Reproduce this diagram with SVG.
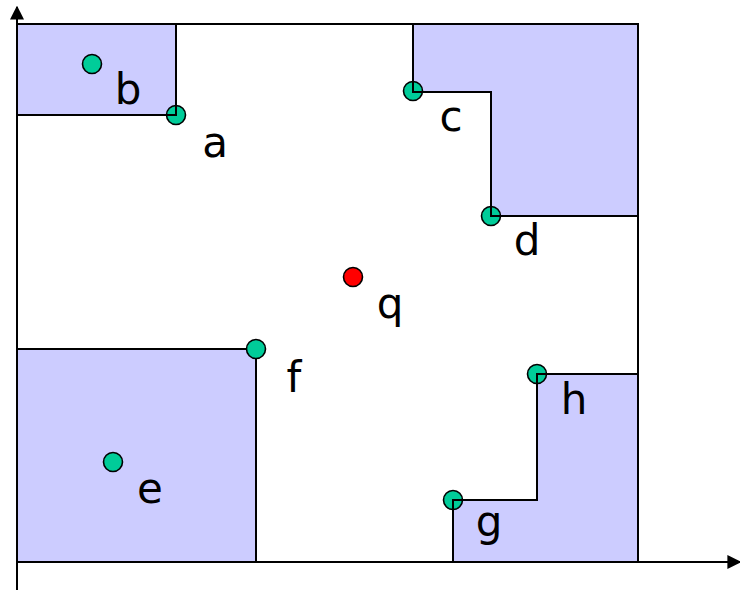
<svg xmlns="http://www.w3.org/2000/svg" width="740" height="590" viewBox="0 0 740 590">
<style>
.reg{fill:#ccccff;stroke:none}
.edge{fill:none;stroke:#000;stroke-width:2}
.pt{fill:#00cc99;stroke:#000;stroke-width:1.6}
.lbl{font-family:"Comic Sans MS","DejaVu Sans","Liberation Sans",sans-serif;font-size:42px;fill:#000;text-anchor:middle}
</style>
<defs>
<marker id="arr" viewBox="0 0 10 10" refX="9" refY="5" markerWidth="14" markerHeight="14" markerUnits="userSpaceOnUse" orient="auto"><path d="M0,0L10,5L0,10z" fill="#000"/></marker>
</defs>
<g id="regions">
<rect class="reg" x="17" y="24" width="159" height="91"/>
<polygon class="reg" points="413,24 638,24 638,216 491,216 491,92 413,92"/>
<rect class="reg" x="17" y="349" width="239" height="213"/>
<polygon class="reg" points="453,562 453,500 537,500 537,374 638,374 638,562"/>
</g>
<g id="points">
<circle class="pt" cx="92" cy="64" r="9.5"/>
<circle class="pt" cx="176" cy="115" r="9.5"/>
<circle class="pt" cx="413" cy="91" r="9.5"/>
<circle class="pt" cx="491" cy="216" r="9.5"/>
<circle class="pt" cx="113" cy="462" r="9.5"/>
<circle class="pt" cx="537" cy="374" r="9.5"/>
<circle class="pt" cx="453" cy="500" r="9.5"/>
<circle cx="353" cy="277" r="9.5" fill="#ff0000" stroke="#000" stroke-width="1.6"/>
</g>
<g id="connectors">
<line class="edge" x1="17" y1="590" x2="17" y2="7" marker-end="url(#arr)"/>
<line class="edge" x1="17" y1="562" x2="740" y2="562" marker-end="url(#arr)"/>
<polyline class="edge" points="17,24 638,24 638,562"/>
<polyline class="edge" points="17,115 176,115 176,24"/>
<polyline class="edge" points="413,24 413,92 491,92 491,216 638,216"/>
<polyline class="edge" points="17,349 256,349 256,562"/>
<polyline class="edge" points="453,562 453,500 537,500 537,374 638,374"/>
</g>
<g id="point-f"><circle class="pt" cx="256" cy="349" r="9.5"/></g>
<g id="labels">
<text class="lbl" x="128" y="104">b</text>
<text class="lbl" x="215" y="157">a</text>
<text class="lbl" x="451" y="131">c</text>
<text class="lbl" x="527" y="255">d</text>
<text class="lbl" x="390" y="318">q</text>
<text class="lbl" x="294" y="392">f</text>
<text class="lbl" x="150" y="503">e</text>
<text class="lbl" x="574" y="414">h</text>
<text class="lbl" x="489" y="536">g</text>
</g>
</svg>
